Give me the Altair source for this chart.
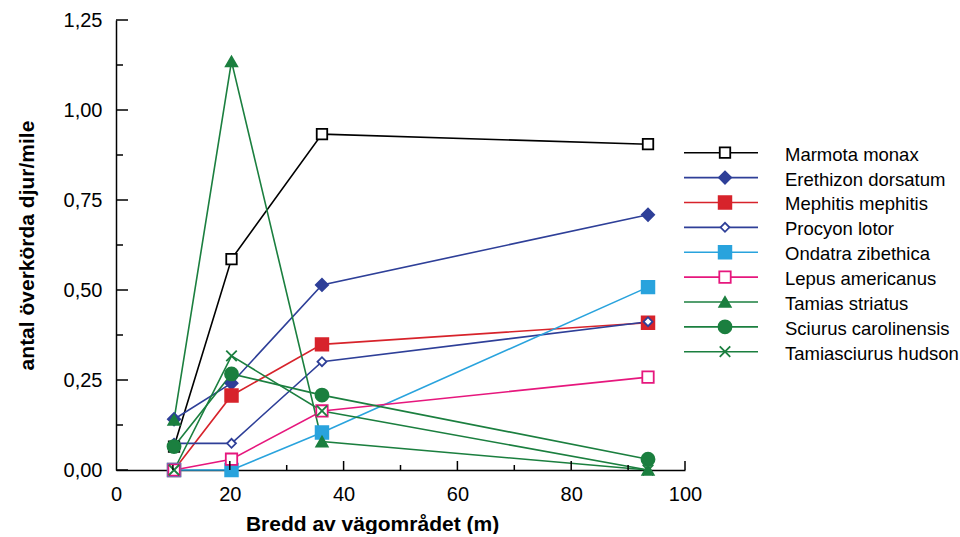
import altair as alt
import pandas as pd

# ---------------- data ----------------
species = ["Marmota monax", "Erethizon dorsatum", "Mephitis mephitis", "Procyon lotor",
           "Ondatra zibethica", "Lepus americanus", "Tamias striatus",
           "Sciurus carolinensis", "Tamiasciurus hudsonicus"]
widths = [10.2, 20.3, 36.2, 93.5]

marmota = [0.065, 0.586, 0.933, 0.905]
erethizon = [0.141, 0.241, 0.514, 0.709]
mephitis = [0.0, 0.207, 0.349, 0.409]
procyon = [0.074, 0.074, 0.301, 0.412]
ondatra = [0.0, 0.0, 0.104, 0.508]
lepus = [0.0, 0.030, 0.164, 0.258]
tamias = [0.139, 1.135, 0.079, 0.0]
sciurus = [0.065, 0.267, 0.208, 0.030]
tamiasciurus = [0.0, 0.317, 0.164, 0.0]
series = [marmota, erethizon, mephitis, procyon, ondatra, lepus, tamias, sciurus, tamiasciurus]

x_ticks = [0, 20, 40, 60, 80, 100]
x_minor = [10, 30, 50, 70, 90]
x_major_in = [20, 40, 60, 80, 100]
y_ticks = [0, 0.25, 0.5, 0.75, 1.0, 1.25]
y_minor = [0.125, 0.375, 0.625, 0.875, 1.125]

# ---------------- styles ----------------
colors = ["#000000", "#2E3F98", "#D7232B", "#2E3F98", "#29A3DD", "#E6177D",
          "#1B7F3F", "#1B7F3F", "#1B7F3F"]
fills = ["#FFFFFF", "#2E3F98", "#D7232B", "#FFFFFF", "#29A3DD", "#FFFFFF",
         "#1B7F3F", "#1B7F3F", "#FFFFFF"]
shapes = ["square", "diamond", "square", "diamond", "square", "square",
          "triangle-up", "circle", "M-1,-1L1,1M-1,1L1,-1"]
sizes = [110, 150, 160, 80, 160, 130, 130, 170, 110]

rows = []
for i, name in enumerate(species):
    for w, v in zip(widths, series[i]):
        rows.append({"species": name, "bredd": w, "value": v, "col": colors[i],
                     "fill": fills[i], "shape": shapes[i], "size": sizes[i]})
df = pd.DataFrame(rows)
leg = pd.DataFrame({"species": species, "col": colors, "fill": fills,
                    "shape": shapes, "size": sizes})

FONT = "Liberation Sans"
W, H = 569, 450

xscale = alt.Scale(domain=[0, 100], nice=False)
yscale = alt.Scale(domain=[0, 1.25], nice=False)

x_axis = alt.Axis(values=x_ticks, ticks=False, grid=False, domainColor="black",
                  domainWidth=1.5, labelFontSize=20, labelColor="black", labelFont=FONT,
                  labelPadding=14, labelFlush=False, title="Bredd av vägområdet (m)",
                  titleFontSize=21, titleFont=FONT, titleFontWeight="bold",
                  titleColor="black", titlePadding=9, titleX=256)
y_axis = alt.Axis(values=y_ticks, ticks=False, grid=False, domainColor="black",
                  domainWidth=1.5, labelFontSize=20, labelColor="black", labelFont=FONT,
                  labelPadding=14, labelExpr="replace(format(datum.value, '.2f'), '.', ',')",
                  title="antal överkörda djur/mile", titleFontSize=21, titleFont=FONT,
                  titleFontWeight="bold", titleColor="black", titlePadding=26)

X = lambda f: alt.X(f, scale=xscale, axis=x_axis)
Y = lambda f: alt.Y(f, scale=yscale, axis=y_axis)

lines = alt.Chart(df).mark_line(strokeWidth=1.6).encode(
    x=X("bredd:Q"), y=Y("value:Q"),
    stroke=alt.Stroke("col:N", scale=None),
    detail="species:N",
)

points = alt.Chart(df).mark_point(opacity=1, strokeWidth=1.8).encode(
    x=X("bredd:Q"), y=Y("value:Q"),
    shape=alt.Shape("shape:N", scale=None),
    fill=alt.Fill("fill:N", scale=None),
    stroke=alt.Stroke("col:N", scale=None),
    size=alt.Size("size:Q", scale=None),
)

ymaj = pd.DataFrame({"value": y_ticks})
ymin = pd.DataFrame({"value": y_minor})
xmaj = pd.DataFrame({"bredd": x_major_in})
xmin = pd.DataFrame({"bredd": x_minor})

ytick_major = alt.Chart(ymaj).mark_rule(color="black", strokeWidth=1.5).encode(
    y=Y("value:Q"), x=alt.value(0), x2=alt.value(12))
ytick_minor = alt.Chart(ymin).mark_rule(color="black", strokeWidth=1.5).encode(
    y=Y("value:Q"), x=alt.value(0), x2=alt.value(7))
xtick_major = alt.Chart(xmaj).mark_rule(color="black", strokeWidth=1.5).encode(
    x=X("bredd:Q"), y=alt.value(H), y2=alt.value(H - 9))
xtick_minor = alt.Chart(xmin).mark_rule(color="black", strokeWidth=1.5).encode(
    x=X("bredd:Q"), y=alt.value(H), y2=alt.value(H - 5))

main = alt.layer(lines, points, ytick_major, ytick_minor, xtick_major, xtick_minor)

ly = alt.Y("species:N", sort=species,
           scale=alt.Scale(type="point", domain=species, range=[132.7, 331.7], padding=0),
           axis=None)

leg_rules = alt.Chart(leg).mark_rule(strokeWidth=1.6).encode(
    x=alt.value(568), x2=alt.value(642), y=ly,
    stroke=alt.Stroke("col:N", scale=None))
leg_pts = alt.Chart(leg).mark_point(opacity=1, strokeWidth=1.8).encode(
    x=alt.value(609), y=ly,
    shape=alt.Shape("shape:N", scale=None),
    fill=alt.Fill("fill:N", scale=None),
    stroke=alt.Stroke("col:N", scale=None),
    size=alt.Size("size:Q", scale=None))
leg_txt = alt.Chart(leg).mark_text(align="left", baseline="middle", fontSize=18.5, dy=2,
                                   font=FONT, color="black", limit=174,
                                   ellipsis="\u200b").encode(
    x=alt.value(669), y=ly, text="species:N")

legend = alt.layer(leg_rules, leg_pts, leg_txt)

chart = alt.layer(main, legend).resolve_scale(y="independent").properties(
    width=W, height=H,
    padding={"left": 16, "top": 10, "right": 0, "bottom": 0},
).configure(font=FONT, background="white").configure_view(stroke=None)

chart.save("out.html", embed_options={"renderer": "svg", "actions": False})
